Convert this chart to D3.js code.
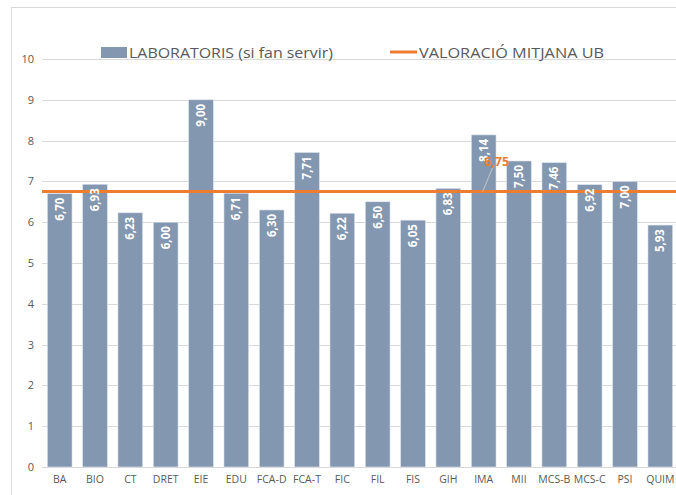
<!DOCTYPE html>
<html>
<head>
<meta charset="utf-8">
<script src="https://cdn.jsdelivr.net/npm/d3@7"></script>
<style>
  body { margin: 0; background: #fff; }
  svg { display: block; font-family: "Open Sans", "Noto Sans", sans-serif; }
</style>
</head>
<body>
<div id="container"></div>
<script>
/* CONSTANTS AND GLOBALS */
const width = 676,
  height = 495,
  margin = {top: 59, bottom: 28, left: 42, right: -2};

// data
const categories = ["BA","BIO","CT","DRET","EIE","EDU","FCA-D","FCA-T","FIC","FIL","FIS","GIH","IMA","MII","MCS-B","MCS-C","PSI","QUIM"];
const labValues = [6.70,6.93,6.23,6.00,9.00,6.71,6.30,7.71,6.22,6.50,6.05,6.83,8.14,7.50,7.46,6.92,7.00,5.93];
const avgUB = 6.75;
const yTicks = [0,1,2,3,4,5,6,7,8,9,10];
const seriesNames = ["LABORATORIS (si fan servir)", "VALORACIÓ MITJANA UB"];

const barColor = "#8497b0",
  lineColor = "#ed7d31",
  textColor = "#595959",
  gridColor = "#d9d9d9";

const fmt = v => v.toFixed(2).replace(".", ",");

const data = categories.map((c, i) => ({cat: c, value: labValues[i]}));

/* INIT */
const svg = d3.select("#container")
  .append("svg")
  .attr("width", width)
  .attr("height", height);

// chart area border (cropped on right and bottom)
svg.append("rect")
  .attr("x", 11.5).attr("y", 7.5)
  .attr("width", width + 20).attr("height", height + 20)
  .attr("fill", "none")
  .attr("stroke", gridColor);

const xScale = d3.scaleBand()
  .domain(categories)
  .range([margin.left, width - margin.right])
  .paddingInner(0.3)
  .paddingOuter(0.15);

const yScale = d3.scaleLinear()
  .domain([0, 10])
  .range([height - margin.bottom, margin.top]);

// gridlines
svg.append("g")
  .selectAll("line")
  .data(yTicks)
  .join("line")
  .attr("x1", margin.left)
  .attr("x2", width)
  .attr("y1", d => Math.round(yScale(d)) + 0.5)
  .attr("y2", d => Math.round(yScale(d)) + 0.5)
  .attr("stroke", gridColor)
  .attr("stroke-width", 1);

// y axis labels
const yAxis = d3.axisLeft(yScale).tickValues(yTicks).tickSize(0).tickPadding(0);
const yAxisGroup = svg.append("g")
  .attr("transform", `translate(${34},0)`)
  .call(yAxis);
yAxisGroup.select(".domain").remove();
yAxisGroup.selectAll("text")
  .attr("fill", textColor)
  .attr("font-size", 11)
  .attr("font-family", "Open Sans, sans-serif");

// bars
svg.append("g")
  .selectAll("rect.bar")
  .data(data)
  .join("rect")
  .attr("class", "bar")
  .attr("x", d => xScale(d.cat))
  .attr("width", xScale.bandwidth())
  .attr("y", d => yScale(d.value))
  .attr("height", d => yScale(0) - yScale(d.value))
  .attr("fill", barColor)
  .attr("stroke", "#dfe5ee")
  .attr("stroke-width", 0.6);

// x axis labels
const xAxis = d3.axisBottom(xScale).tickSize(0).tickPadding(0);
const xAxisGroup = svg.append("g")
  .attr("transform", `translate(0,${height - margin.bottom + 9})`)
  .call(xAxis);
xAxisGroup.select(".domain").remove();
xAxisGroup.selectAll("text")
  .attr("fill", textColor)
  .attr("font-size", 10.5)
  .attr("font-family", "Open Sans, sans-serif");

// average line
svg.append("line")
  .attr("x1", margin.left)
  .attr("x2", width)
  .attr("y1", yScale(avgUB))
  .attr("y2", yScale(avgUB))
  .attr("stroke", lineColor)
  .attr("stroke-width", 3);

// value labels inside bars, rotated (drawn over the line)
svg.append("g")
  .selectAll("text")
  .data(data)
  .join("text")
  .attr("transform", d => `translate(${xScale(d.cat) + xScale.bandwidth() / 2 + 4},${yScale(d.value) + 4}) rotate(-90)`)
  .attr("text-anchor", "end")
  .attr("fill", "#fff")
  .attr("font-weight", "bold")
  .attr("font-size", 11.5)
  .text(d => fmt(d.value));

// average label with leader line
const imaX = xScale("IMA") + xScale.bandwidth() / 2;
svg.append("line")
  .attr("x1", imaX - 1)
  .attr("y1", yScale(avgUB))
  .attr("x2", imaX + 9)
  .attr("y2", yScale(avgUB) - 24)
  .attr("stroke", "#d0d0d0")
  .attr("stroke-width", 0.8);
svg.append("text")
  .attr("x", imaX + 13)
  .attr("y", yScale(avgUB) - 26)
  .attr("text-anchor", "middle")
  .attr("fill", lineColor)
  .attr("font-weight", "bold")
  .attr("font-size", 12.5)
  .text(fmt(avgUB));

// legend
const legend = svg.append("g");
legend.append("rect")
  .attr("x", 101).attr("y", 47)
  .attr("width", 26).attr("height", 11)
  .attr("fill", barColor);
legend.append("text")
  .attr("x", 129).attr("y", 58)
  .attr("fill", textColor)
  .attr("font-size", 15)
  .attr("textLength", 204)
  .attr("lengthAdjust", "spacingAndGlyphs")
  .text(seriesNames[0]);
legend.append("line")
  .attr("x1", 390).attr("x2", 417)
  .attr("y1", 52).attr("y2", 52)
  .attr("stroke", lineColor)
  .attr("stroke-width", 3);
legend.append("text")
  .attr("x", 419).attr("y", 58)
  .attr("fill", textColor)
  .attr("font-size", 15)
  .attr("textLength", 185)
  .attr("lengthAdjust", "spacingAndGlyphs")
  .text(seriesNames[1]);
</script>
</body>
</html>
